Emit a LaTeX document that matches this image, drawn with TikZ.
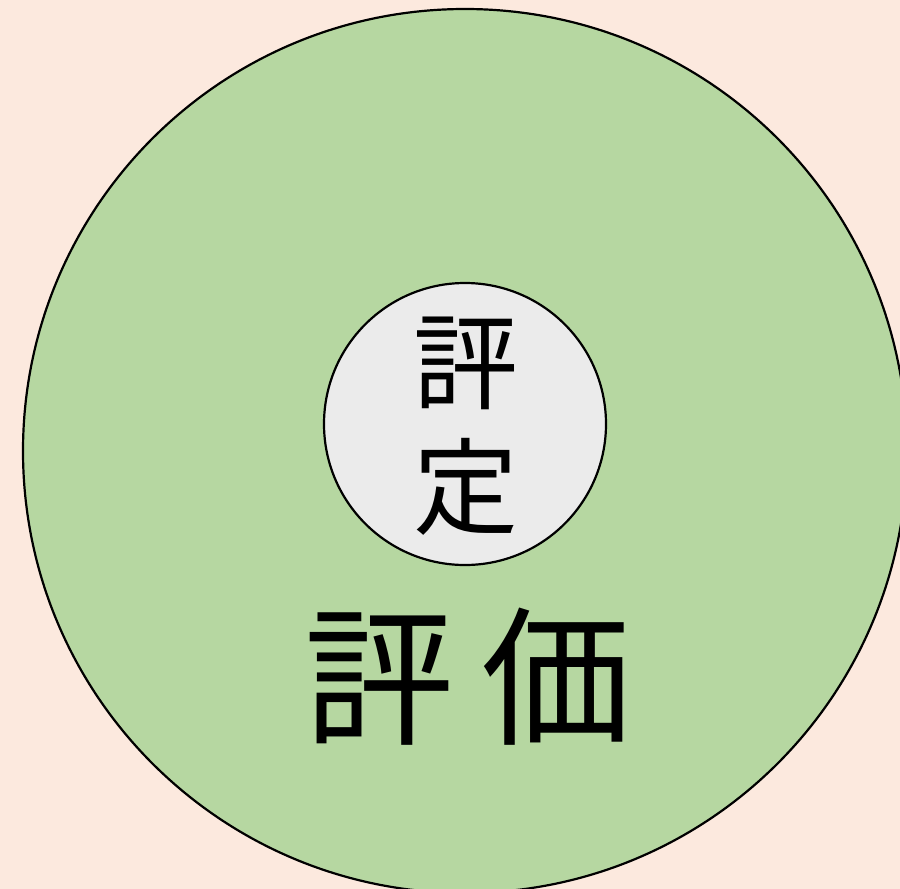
\documentclass[tikz,border=0pt]{standalone}
\usepackage{fontspec}
\newfontfamily\jpfont{Noto Sans CJK JP}
\usetikzlibrary{positioning}
\definecolor{fond}{RGB}{252,233,222}
\definecolor{vert}{RGB}{182,215,161}
\definecolor{gris}{RGB}{235,235,235}
\tikzstyle{rond} = [circle,draw=black,line width=2.2pt,inner sep=0pt]
\tikzstyle{mot} = [align=center,inner sep=0pt]
\begin{document}
\begin{tikzpicture}[x=1pt,y=-1pt]
%% fond
	\fill[fond] (0,0) rectangle (900,889);
	\useasboundingbox (0,0) rectangle (900,889);

%% Les cercles
	\begin{scope}
	\clip (0,0) rectangle (900,889);
	\node[rond,fill=vert,minimum size=884pt] (hyoka) at (465,451) {};
	\end{scope}
	\node[rond,fill=gris,minimum size=282pt] (hyotei) at (465,424) {};

%% Les textes
	\node[mot,font=\jpfont\fontsize{105}{125}\selectfont] (hyotei_txt) at (466,426) {評\\定};
	\node[mot,font=\jpfont\fontsize{150}{150}\selectfont] (hyoka_txt) at (468,677) {評\hspace{28pt}価};

\end{tikzpicture}
\end{document}
